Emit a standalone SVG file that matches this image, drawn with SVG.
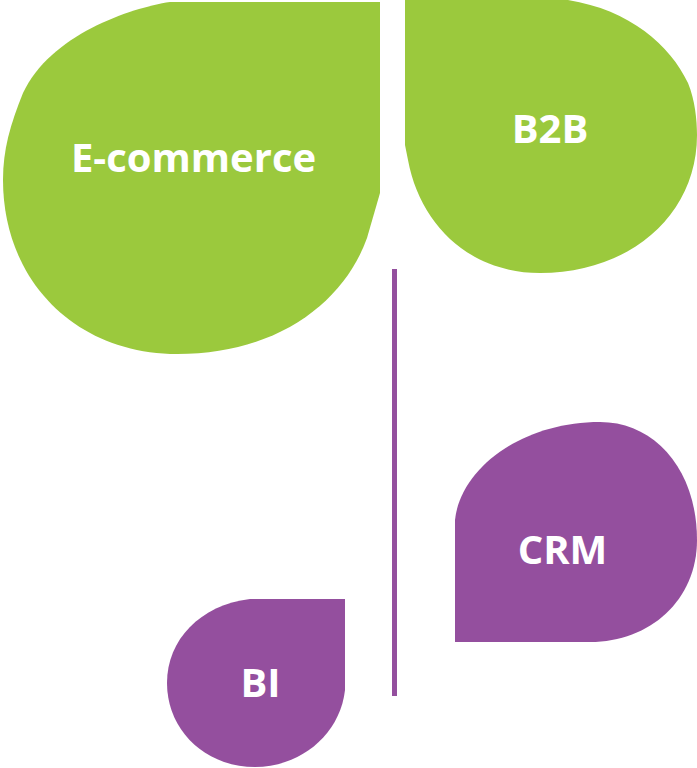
<svg xmlns="http://www.w3.org/2000/svg" width="697" height="768" viewBox="0 0 697 768">
<style>
.g{fill:#9BC93D}
.p{fill:#944F9E}
.t{fill:#fff;font-family:"Open Sans","Liberation Sans",sans-serif;font-weight:bold;font-size:40px;text-anchor:middle}
</style>
<rect width="697" height="768" fill="#fff"/>
<g id="connectors">
<line x1="394.5" y1="269" x2="394.5" y2="696" stroke="#944F9E" stroke-width="5"/>
</g>
<g id="ecommerce">
<path class="g" d="M380,2 L380,193 L367,238 C345,300 280,354 177,354 C75,354 3,280 3,180 C3,150 10,125 23,93 C50,35 130,8 170,2 Z"/>
<text class="t" x="193.5" y="172">E-commerce</text>
</g>
<g id="b2b">
<path class="g" d="M405,0 L568,0 C630,10 670,45 688,83 C695,100 697,120 697,135 C697,215 630,273 540,273 C470,273 420,225 408,160 L405,145 Z"/>
<text class="t" x="550" y="143">B2B</text>
</g>
<g id="crm">
<path class="p" d="M455,642 L455,520 C460,470 520,422 600,422 C655,422 697,470 697,540 C697,600 650,642 590,642 Z"/>
<text class="t" x="562.5" y="564">CRM</text>
</g>
<g id="bi">
<path class="p" d="M345,599 L345,690 C340,735 300,767 255,767 C205,767 167,730 167,683 C167,640 200,605 250,599 Z"/>
<text class="t" x="260.5" y="697">BI</text>
</g>
</svg>
